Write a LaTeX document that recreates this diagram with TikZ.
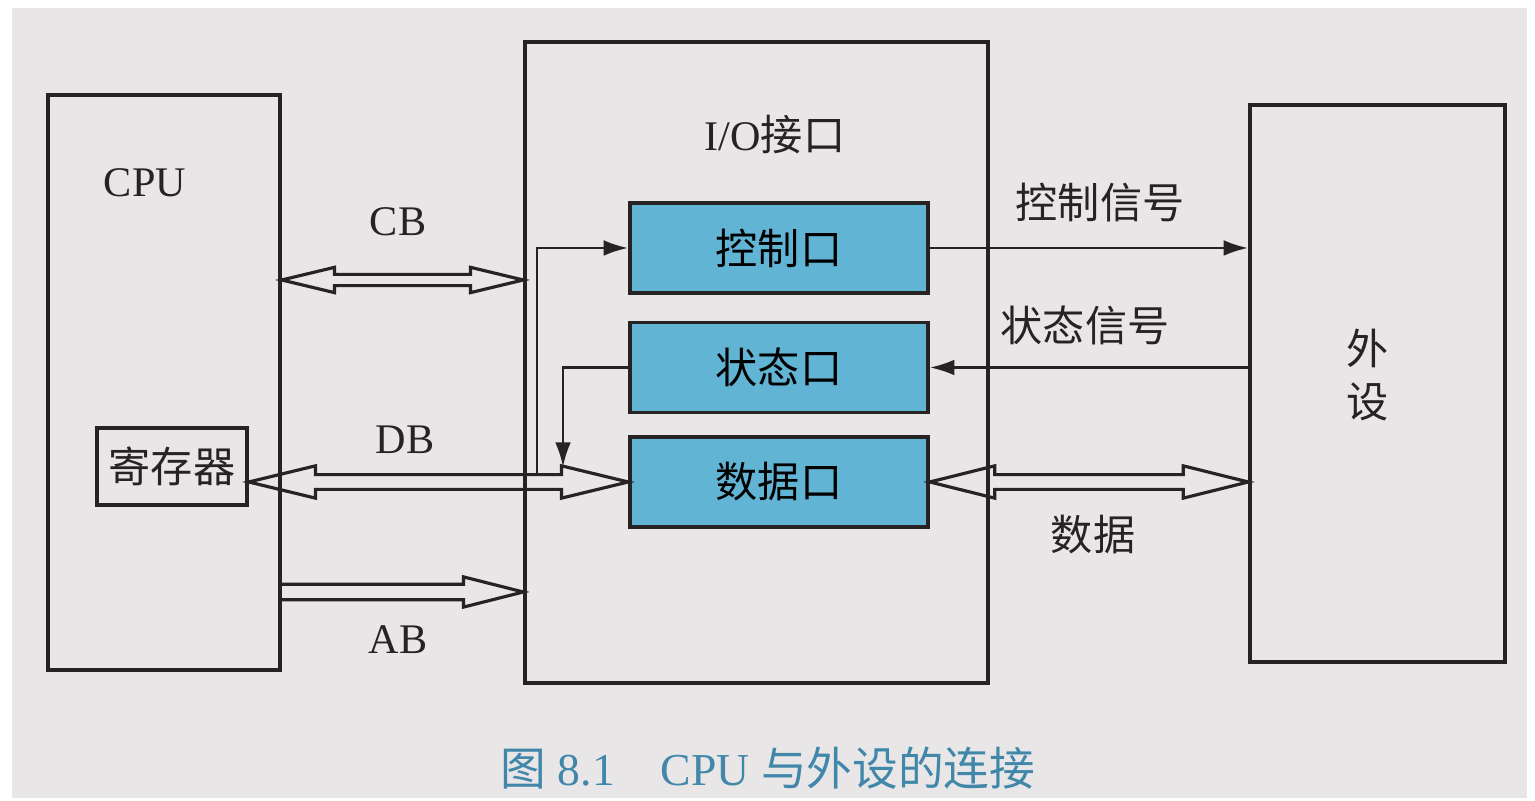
\documentclass[tikz,border=0pt]{standalone}
\usepackage{fontspec}
\setmainfont{Liberation Serif}
\newfontfamily\cjk{Noto Sans CJK SC}
\usetikzlibrary{calc}
\usetikzlibrary{arrows.meta}
\definecolor{paper}{RGB}{232,230,230}
\definecolor{linec}{RGB}{40,35,35}
\definecolor{portblue}{RGB}{98,180,212}
\definecolor{capblue}{RGB}{65,135,170}
\tikzset{
    bhl/.store in=\bhl, bhw/.store in=\bhw, bsw/.store in=\bsw,
    bhl=15pt, bhw=3.6pt, bsw=1.6pt,
    box/.style = {rectangle, draw=linec, line width=1pt, inner sep=0pt},
    port/.style = {rectangle, draw=linec, line width=1pt, fill=portblue, minimum width=2.98cm, minimum height=0.9cm, font=\cjk\fontsize{12}{14}\selectfont},
    txt/.style = {font=\fontsize{12}{14}\selectfont, text=linec},
    ctxt/.style = {font=\cjk\fontsize{12}{14}\selectfont, text=linec},
    sig/.style = {-{Latex[length=7pt,width=4.5pt]}, line width=0.8pt, draw=linec},
    twoway/.style = {draw=linec, line width=0.9pt, line join=miter, to path={let \p1=(\tikztostart), \p2=(\tikztotarget) in
        (\p1) -- (\x1+\bhl,\y1+\bhw) -- (\x1+\bhl,\y1+\bsw) -- (\x2-\bhl,\y1+\bsw) -- (\x2-\bhl,\y1+\bhw) -- (\x2,\y1)
        -- (\x2-\bhl,\y1-\bhw) -- (\x2-\bhl,\y1-\bsw) -- (\x1+\bhl,\y1-\bsw) -- (\x1+\bhl,\y1-\bhw) -- cycle}},
    oneway/.style = {draw=linec, line width=0.9pt, line join=miter, to path={let \p1=(\tikztostart), \p2=(\tikztotarget) in
        (\x1,\y1+\bsw) -- (\x2-\bhl,\y1+\bsw) -- (\x2-\bhl,\y1+\bhw) -- (\x2,\y1)
        -- (\x2-\bhl,\y1-\bhw) -- (\x2-\bhl,\y1-\bsw) -- (\x1,\y1-\bsw)}}
}

\begin{document}
\begin{tikzpicture}
\useasboundingbox (0,0) rectangle (15.35,-8.01);
\fill[white] (0,0) rectangle (15.35,-8.01);
\fill[paper] (0.12,-0.08) rectangle (15.27,-7.98);
% blocks
\node[box, minimum width=2.32cm, minimum height=5.75cm] at (1.64,-3.825) (cpu) {};
\node[txt] at (1.45,-1.83) (cpulbl) {CPU};
\node[box, minimum width=1.50cm, minimum height=0.77cm, font=\cjk\fontsize{12}{14}\selectfont, text=linec] at (1.72,-4.665) (reg) {寄存器};
\node[box, minimum width=4.63cm, minimum height=6.41cm] at (7.565,-3.625) (io) {};
\node[txt] at (7.75,-1.35) (iolbl) {I/O{\cjk 接口}};
\node[port] at (7.79,-2.48) (ctl) {控制口};
\node[port] at (7.79,-3.675) (stat) {状态口};
\node[port] at (7.79,-4.82) (data) {数据口};
\node[box, minimum width=2.55cm, minimum height=5.57cm] at (13.775,-3.835) (ext) {};
\node[ctxt, align=center, font=\cjk\fontsize{12}{15}\selectfont] at (13.68,-3.75) (extlbl) {外\\设};
%
\coordinate (cbrow) at (0,-2.80);
\coordinate (abrow) at (0,-5.92);
\coordinate (tap) at (5.37,-4.74);
\coordinate (drop) at (5.63,-4.67);
% buses
\draw[twoway] (cpu.east |- cbrow) to (io.west |- cbrow);
\draw[twoway, bhl=19pt, bhw=4.6pt, bsw=2.1pt] (reg.east |- data.west) to (data.west);
\draw[oneway, bhl=17pt, bhw=4.3pt, bsw=2.2pt] (cpu.east |- abrow) to (io.west |- abrow);
\draw[twoway, bhl=18.5pt, bhw=4.6pt, bsw=2.1pt] (data.east) to (ext.west |- data.east);
% signals
\draw[sig] (tap) |- (ctl.west);
\draw[sig] (stat.west) -| (drop);
\draw[sig] (ctl.east) -- (ext.west |- ctl.east);
\draw[sig] (ext.west |- stat.east) -- (stat.east);
% labels
\node[txt] at (3.98,-2.22) (cb) {CB};
\node[txt] at (4.05,-4.40) (db) {DB};
\node[txt] at (3.98,-6.40) (ab) {AB};
\node[ctxt] at (11.0,-2.03) (ctlsig) {控制信号};
\node[ctxt] at (10.85,-3.25) (statsig) {状态信号};
\node[ctxt] at (10.93,-5.35) (datasig) {数据};
\node[font=\fontsize{13}{15}\selectfont, text=capblue] at (7.68,-7.68) (cap) {{\cjk 图} 8.1\quad CPU {\cjk 与外设的连接}};
\end{tikzpicture}
\end{document}
